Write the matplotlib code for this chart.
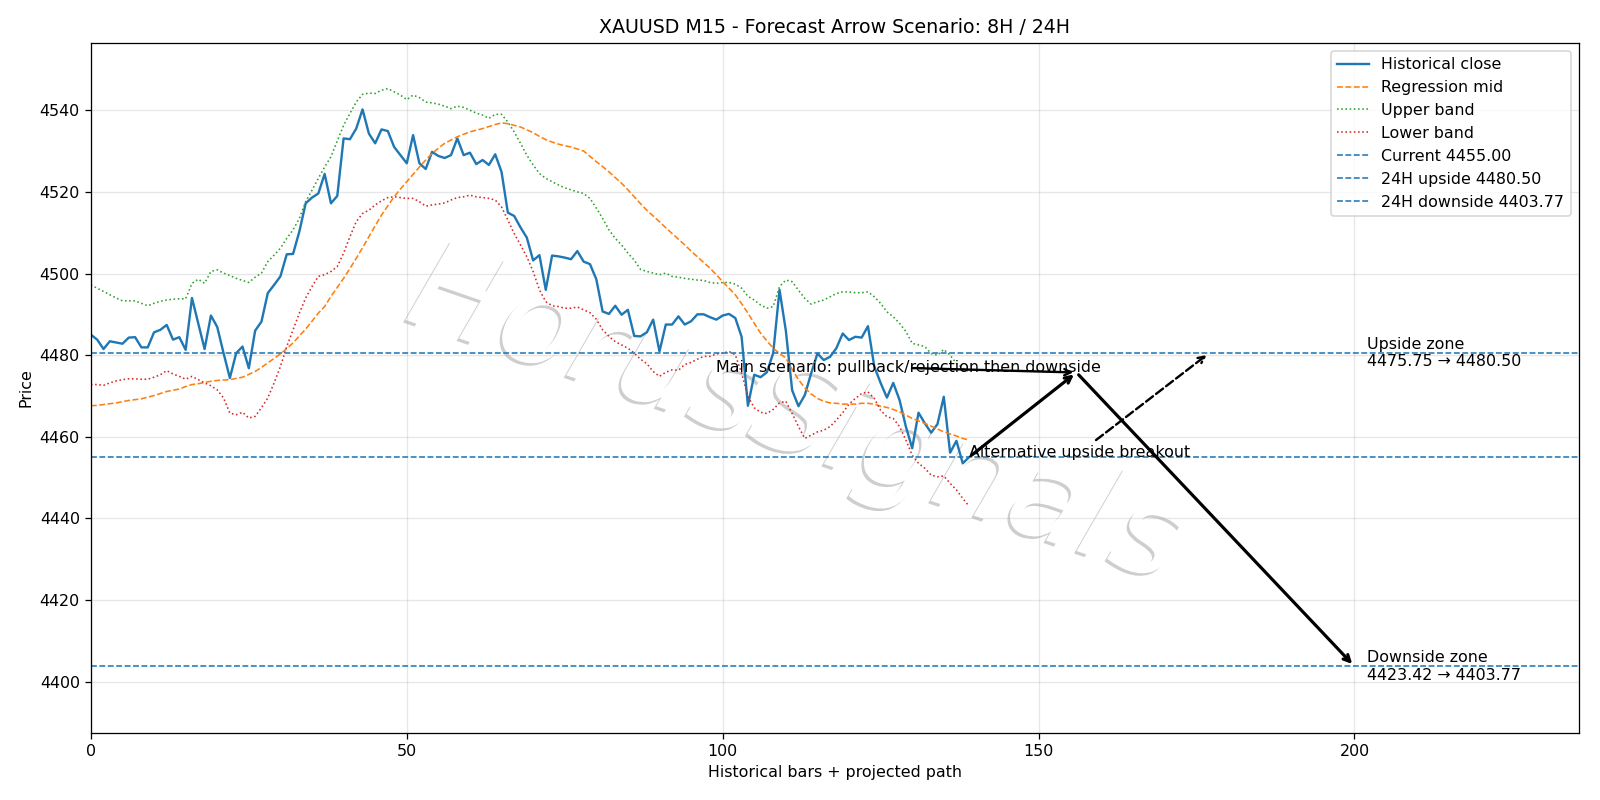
import numpy as np
import matplotlib
matplotlib.use("Agg")
import matplotlib.pyplot as plt
import matplotlib.patheffects as pe

# historical M15 closes (last bar = current price)
close = [
    4485.0, 4483.8, 4481.5, 4483.4, 4483.1, 4482.8, 4484.3, 4484.4, 4481.9, 4481.9,
    4485.6, 4486.2, 4487.4, 4483.8, 4484.4, 4481.3, 4494.0, 4487.8, 4481.5, 4489.7,
    4486.9, 4480.5, 4474.4, 4480.5, 4482.1, 4476.8, 4486.0, 4488.2, 4495.2, 4497.2,
    4499.3, 4504.7, 4504.8, 4510.3, 4517.2, 4518.6, 4519.6, 4524.4, 4517.2, 4519.0,
    4533.1, 4532.9, 4535.5, 4540.2, 4534.3, 4531.9, 4535.3, 4534.9, 4531.0, 4529.0,
    4527.0, 4533.9, 4527.0, 4525.6, 4529.8, 4528.8, 4528.3, 4529.0, 4533.1, 4529.0,
    4529.6, 4526.8, 4527.8, 4526.6, 4529.2, 4524.9, 4514.9, 4514.1, 4511.3, 4508.8,
    4503.2, 4504.5, 4496.0, 4504.4, 4504.2, 4503.9, 4503.5, 4505.5, 4502.9, 4502.3,
    4498.6, 4490.7, 4490.1, 4492.1, 4489.9, 4491.1, 4484.7, 4484.6, 4485.6, 4488.7,
    4480.9, 4487.5, 4487.5, 4489.5, 4487.5, 4488.3, 4490.0, 4490.0, 4489.3, 4488.7,
    4489.7, 4490.1, 4489.1, 4484.5, 4467.6, 4475.2, 4474.6, 4475.8, 4480.5, 4496.0,
    4486.0, 4471.4, 4467.5, 4470.2, 4475.5, 4480.4, 4478.8, 4479.6, 4481.7, 4485.3,
    4483.7, 4484.5, 4484.3, 4487.1, 4477.2, 4473.2, 4469.6, 4473.2, 4469.0, 4462.5,
    4457.2, 4465.9, 4463.3, 4461.0, 4463.1, 4469.8, 4456.1, 4459.0, 4453.5, 4455.0,
]

mid = [
    4467.6, 4467.7, 4467.9, 4468.1, 4468.3, 4468.6, 4468.9, 4469.1, 4469.3, 4469.7,
    4470.1, 4470.6, 4471.1, 4471.4, 4471.7, 4472.3, 4472.8, 4473.0, 4473.3, 4473.6,
    4473.8, 4473.9, 4474.0, 4474.3, 4474.6, 4475.3, 4476.0, 4477.0, 4478.1, 4479.2,
    4480.3, 4481.6, 4483.0, 4484.7, 4486.4, 4488.3, 4490.3, 4491.9, 4494.4, 4496.6,
    4498.8, 4501.2, 4503.7, 4506.3, 4509.0, 4511.7, 4514.3, 4516.6, 4518.8, 4520.7,
    4522.5, 4524.3, 4526.1, 4527.8, 4529.4, 4530.7, 4531.9, 4532.7, 4533.5, 4534.1,
    4534.7, 4535.1, 4535.5, 4536.0, 4536.5, 4536.9, 4536.7, 4536.3, 4535.9, 4535.2,
    4534.5, 4533.6, 4532.8, 4532.2, 4531.7, 4531.3, 4531.0, 4530.5, 4530.0, 4528.7,
    4527.4, 4526.2, 4524.9, 4523.5, 4522.1, 4520.5, 4518.8, 4517.1, 4515.5, 4514.1,
    4512.7, 4511.2, 4509.8, 4508.4, 4507.0, 4505.5, 4504.1, 4502.7, 4501.3, 4499.7,
    4498.0, 4496.4, 4494.8, 4492.6, 4490.3, 4487.8, 4485.4, 4483.5, 4481.7, 4480.4,
    4479.3, 4476.5, 4474.0, 4472.0, 4470.5, 4469.4, 4468.7, 4468.3, 4468.2, 4468.0,
    4468.0, 4468.0, 4468.2, 4468.2, 4468.0, 4467.5, 4467.2, 4466.7, 4466.1, 4465.3,
    4464.5, 4463.9, 4463.3, 4462.6, 4461.9, 4461.2, 4460.7, 4460.2, 4459.6, 4459.2,
]

upper = [
    4497.2, 4496.4, 4495.6, 4494.8, 4494.0, 4493.3, 4493.3, 4493.3, 4492.7, 4492.1,
    4492.7, 4493.2, 4493.5, 4493.7, 4493.8, 4493.8, 4497.6, 4498.6, 4497.6, 4500.5,
    4500.9, 4500.1, 4499.5, 4498.8, 4498.3, 4497.8, 4499.1, 4500.1, 4502.9, 4504.5,
    4506.2, 4508.6, 4510.7, 4513.5, 4517.6, 4520.4, 4523.3, 4526.1, 4528.6, 4532.5,
    4536.3, 4539.2, 4542.0, 4543.9, 4544.2, 4544.1, 4544.9, 4545.3, 4544.5, 4543.7,
    4542.6, 4543.7, 4543.1, 4542.0, 4541.8, 4541.5, 4541.0, 4540.4, 4541.0, 4540.7,
    4540.0, 4539.3, 4538.8, 4538.0, 4539.0, 4539.0, 4537.1, 4534.7, 4531.9, 4529.0,
    4526.6, 4524.5, 4523.3, 4522.5, 4521.7, 4521.0, 4520.5, 4520.0, 4519.6, 4518.4,
    4516.0, 4513.5, 4510.7, 4508.6, 4507.0, 4505.0, 4503.3, 4501.0, 4500.5, 4500.1,
    4499.7, 4500.1, 4499.3, 4499.1, 4498.8, 4498.6, 4498.4, 4498.3, 4497.8, 4497.6,
    4497.8, 4497.8, 4497.4, 4496.4, 4494.4, 4493.5, 4492.3, 4491.5, 4491.9, 4496.8,
    4498.4, 4498.0, 4495.9, 4493.9, 4492.5, 4493.1, 4493.5, 4494.3, 4495.1, 4495.5,
    4495.5, 4495.3, 4495.3, 4495.5, 4494.3, 4492.7, 4490.6, 4489.4, 4487.8, 4485.8,
    4482.9, 4482.5, 4482.1, 4480.4, 4480.0, 4481.4, 4480.0, 4478.0, 4476.8, 4475.9,
]

lower = [
    4472.8, 4472.8, 4472.6, 4473.2, 4473.7, 4474.0, 4474.2, 4474.2, 4474.1, 4474.1,
    4474.6, 4475.2, 4476.2, 4475.4, 4474.8, 4474.1, 4474.8, 4474.0, 4473.2, 4472.5,
    4471.5, 4469.5, 4465.8, 4465.4, 4466.0, 4464.6, 4465.0, 4467.1, 4469.5, 4473.2,
    4477.2, 4482.1, 4486.2, 4490.3, 4494.0, 4496.8, 4499.3, 4499.7, 4500.5, 4501.7,
    4505.0, 4509.0, 4512.7, 4514.7, 4515.5, 4516.8, 4517.8, 4518.6, 4518.8, 4518.6,
    4518.4, 4518.4, 4517.6, 4516.5, 4516.8, 4517.0, 4517.3, 4518.0, 4518.6, 4518.8,
    4519.2, 4518.8, 4518.6, 4518.4, 4518.0, 4516.3, 4513.1, 4509.8, 4507.0, 4504.1,
    4500.5, 4496.0, 4493.1, 4492.1, 4491.9, 4491.5, 4491.5, 4491.8, 4491.1, 4490.4,
    4488.8, 4486.2, 4484.6, 4483.3, 4482.5, 4481.7, 4480.5, 4479.0, 4477.9, 4476.0,
    4474.8, 4475.8, 4476.4, 4476.3, 4477.7, 4478.2, 4479.0, 4479.7, 4479.7, 4480.3,
    4480.5, 4480.9, 4480.1, 4475.6, 4469.9, 4467.1, 4466.0, 4465.7, 4466.7, 4468.3,
    4468.7, 4465.7, 4462.5, 4459.6, 4460.4, 4461.2, 4461.6, 4462.5, 4464.1, 4465.9,
    4468.0, 4469.4, 4470.6, 4471.0, 4469.4, 4466.5, 4464.9, 4464.5, 4462.5, 4459.2,
    4455.5, 4453.5, 4452.3, 4450.6, 4450.2, 4450.4, 4448.6, 4447.0, 4444.9, 4443.0,
]

current = 4455.00
up_lo, up_hi = 4475.75, 4480.50
dn_lo, dn_hi = 4423.42, 4403.77

# projected path (bar index)
pivot_x = 156
target_x = 200
alt_x = 177
main_text_x = 99
zone_text_x = 202

x = np.arange(len(close))
last_x = x[-1]

fig = plt.figure(figsize=(14, 7), dpi=1600 / 14)
ax = fig.add_subplot(111)
plt.subplots_adjust(left=0.0568, right=0.9867, top=0.9464, bottom=0.0841)

# watermark
ax.text(0.497, 0.478, "HorusSignals", transform=fig.transFigure, fontsize=78,
        style="italic", color="white", rotation=-19, ha="center", va="center",
        zorder=0.2,
        path_effects=[pe.withSimplePatchShadow(offset=(-1.6, -1.6), shadow_rgbFace="0.45", alpha=0.35)])

ax.plot(x, close, color="C0", lw=1.5, label="Historical close")
ax.plot(x, mid, color="C1", ls="--", lw=1.0, label="Regression mid")
ax.plot(x, upper, color="C2", ls=":", lw=1.0, label="Upper band")
ax.plot(x, lower, color="C3", ls=":", lw=1.0, label="Lower band")

ax.axhline(current, color="C0", ls="--", lw=1.0, label=f"Current {current:.2f}")
ax.axhline(up_hi, color="C0", ls="--", lw=1.0, label=f"24H upside {up_hi:.2f}")
ax.axhline(dn_hi, color="C0", ls="--", lw=1.0, label=f"24H downside {dn_hi:.2f}")

# main scenario arrows
ax.annotate("", xy=(pivot_x, up_lo), xytext=(last_x, current),
            arrowprops=dict(arrowstyle="->", lw=2, color="black"))
ax.annotate("", xy=(target_x, dn_hi), xytext=(pivot_x, up_lo),
            arrowprops=dict(arrowstyle="->", lw=2, color="black"))
ax.annotate("Main scenario: pullback/rejection then downside", xy=(pivot_x, up_lo),
            xytext=(main_text_x, up_lo),
            arrowprops=dict(arrowstyle="->", lw=1.5, color="black", patchA=None))
ax.annotate("Alternative upside breakout", xy=(alt_x, up_hi), xytext=(last_x, current),
            arrowprops=dict(arrowstyle="->", lw=1.5, ls="--", color="black"))

ax.text(zone_text_x, up_hi, f"Upside zone\n{up_lo:.2f} \u2192 {up_hi:.2f}", va="center")
ax.text(zone_text_x, dn_hi, f"Downside zone\n{dn_lo:.2f} \u2192 {dn_hi:.2f}", va="center")

ax.set_xlim(0, 235.5)
ax.set_ylim(4387.5, 4556.5)
ax.set_title("XAUUSD M15 - Forecast Arrow Scenario: 8H / 24H")
ax.set_xlabel("Historical bars + projected path")
ax.set_ylabel("Price")
ax.grid(True, alpha=0.3)
ax.legend(loc="upper right")

fig.savefig("out.png", dpi=1600 / 14)
